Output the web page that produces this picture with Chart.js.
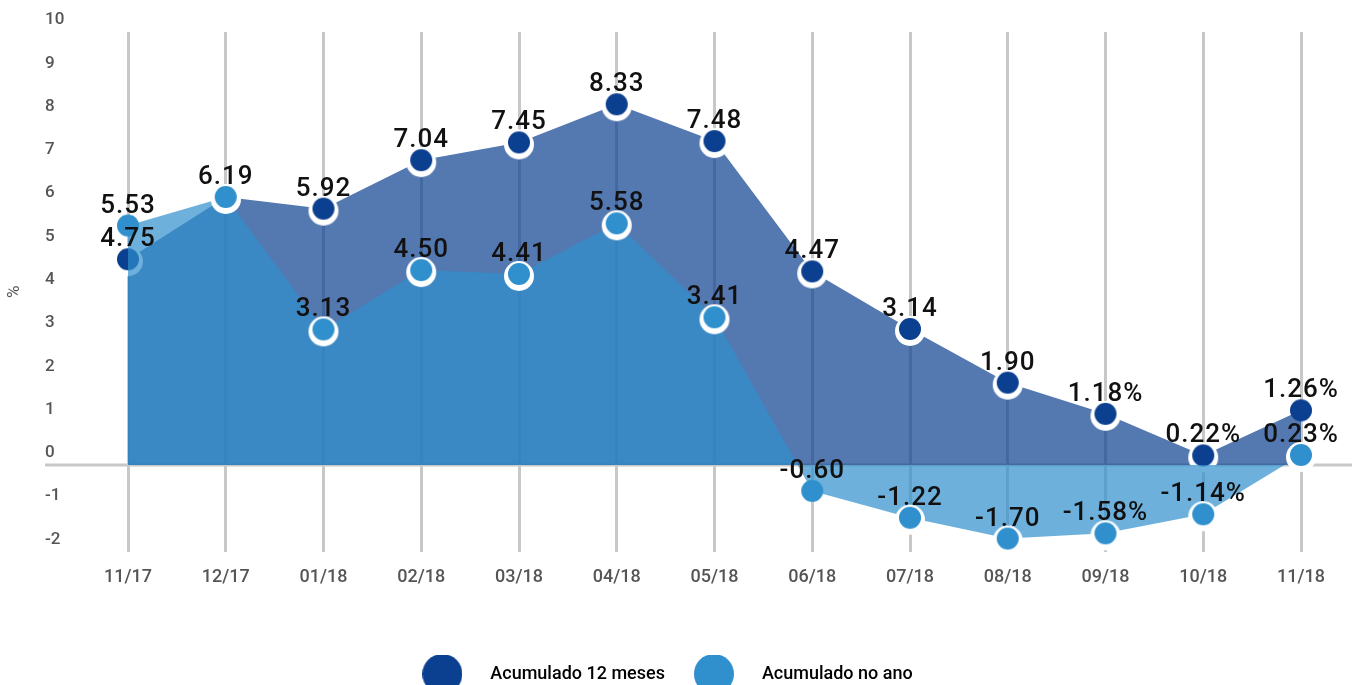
<!DOCTYPE html>
<html>
<head>
<meta charset="utf-8">
<script src="https://cdn.jsdelivr.net/npm/chart.js@4.4.0/dist/chart.umd.min.js"></script>
<style>
  html, body { margin: 0; padding: 0; background: #fff; }
  #wrap { width: 1356px; height: 685px; position: relative; }
</style>
</head>
<body>
<div id="wrap"><canvas id="myChart"></canvas></div>
<script>
// data
const months = ['11/17', '12/17', '01/18', '02/18', '03/18', '04/18', '05/18', '06/18', '07/18', '08/18', '09/18', '10/18', '11/18'];
const acum12 = [4.75, 6.19, 5.92, 7.04, 7.45, 8.33, 7.48, 4.47, 3.14, 1.90, 1.18, 0.22, 1.26];
const acumAno = [5.53, 6.19, 3.13, 4.50, 4.41, 5.58, 3.41, -0.60, -1.22, -1.70, -1.58, -1.14, 0.23];
const labels12 = ['4.75', '', '5.92', '7.04', '7.45', '8.33', '7.48', '4.47', '3.14', '1.90', '1.18%', '0.22%', '1.26%'];
const labelsAno = ['5.53', '6.19', '3.13', '4.50', '4.41', '5.58', '3.41', '-0.60', '-1.22', '-1.70', '-1.58%', '-1.14%', '0.23%'];
const seriesNames = ['Acumulado 12 meses', 'Acumulado no ano'];

// points drawn without the white ring in the original
const plain12 = [12];
const plainAno = [0, 7];

const DARK = '#0b3f8f';
const LIGHT = '#2f90cd';

// point with a white ring slightly shifted down
function dot(color, ring) {
  const c = document.createElement('canvas');
  c.width = 34; c.height = 40;
  const g = c.getContext('2d');
  if (ring) {
    g.fillStyle = '#fff';
    g.beginPath(); g.arc(17, 22, 15, 0, Math.PI * 2); g.fill();
  }
  g.fillStyle = color;
  g.beginPath(); g.arc(17, 20, 11, 0, Math.PI * 2); g.fill();
  return c;
}
const dots12 = [dot(DARK, true), dot(DARK, false)];
const dotsAno = [dot(LIGHT, true), dot(LIGHT, false)];

function legendDot(color) {
  const c = document.createElement('canvas');
  c.width = 40; c.height = 40;
  const g = c.getContext('2d');
  g.fillStyle = color;
  g.beginPath(); g.arc(20, 20, 20, 0, Math.PI * 2); g.fill();
  return c;
}
const legendDots = [legendDot(DARK), legendDot(LIGHT)];

// zero line across the whole width
const zeroLine = {
  id: 'zeroLine',
  beforeDatasetsDraw(chart) {
    const ctx = chart.ctx;
    const y = chart.scales.y.getPixelForValue(0);
    ctx.save();
    ctx.strokeStyle = '#c8c8c8';
    ctx.lineWidth = 3;
    ctx.beginPath();
    ctx.moveTo(chart.scales.y.left, y);
    ctx.lineTo(chart.width - 4, y);
    ctx.stroke();
    ctx.restore();
  }
};

// value labels above the points
const valueLabels = {
  id: 'valueLabels',
  afterDatasetsDraw(chart) {
    const ctx = chart.ctx;
    const texts = [labels12, labelsAno];
    ctx.save();
    ctx.font = '500 26px Roboto';
    ctx.letterSpacing = '1px';
    ctx.fillStyle = '#111';
    ctx.textAlign = 'center';
    ctx.textBaseline = 'alphabetic';
    chart.data.datasets.forEach((ds, i) => {
      chart.getDatasetMeta(i).data.forEach((pt, j) => {
        if (texts[i][j]) ctx.fillText(texts[i][j], pt.x, pt.y - 13);
      });
    });
    ctx.restore();
  }
};

// "%" axis title
const unitTitle = {
  id: 'unitTitle',
  afterDraw(chart) {
    const ctx = chart.ctx;
    const a = chart.chartArea;
    ctx.save();
    ctx.translate(15, (a.top + a.bottom) / 2);
    ctx.rotate(-Math.PI / 2);
    ctx.font = '400 17px Roboto';
    ctx.fillStyle = '#555';
    ctx.textAlign = 'center';
    ctx.textBaseline = 'middle';
    ctx.fillText('%', 0, 0);
    ctx.restore();
  }
};

// legend sits a little left of centre and a bit lower
const legendShift = {
  id: 'legendShift',
  afterLayout(chart) {
    const lg = chart.legend;
    lg.left -= 15;
    lg.right -= 15;
    lg.top += 3.5;
    lg.bottom += 3.5;
  }
};

const config = {
  type: 'line',
  data: {
    labels: months,
    datasets: [{
      label: seriesNames[0],
      data: acum12,
      order: 2,
      clip: false,
      fill: 'origin',
      backgroundColor: 'rgba(11, 63, 143, 0.7)',
      borderColor: 'transparent',
      borderWidth: 0,
      tension: 0,
      pointStyle: ctx => dots12[plain12.includes(ctx.dataIndex) ? 1 : 0],
      pointBackgroundColor: DARK
    }, {
      label: seriesNames[1],
      data: acumAno,
      order: 1,
      clip: false,
      fill: 'origin',
      backgroundColor: 'rgba(47, 143, 204, 0.7)',
      borderColor: 'transparent',
      borderWidth: 0,
      tension: 0,
      pointStyle: ctx => dotsAno[plainAno.includes(ctx.dataIndex) ? 1 : 0],
      pointBackgroundColor: LIGHT
    }]
  },
  options: {
    responsive: true,
    maintainAspectRatio: false,
    animation: false,
    events: [],
    layout: { padding: { left: 45, right: 55, top: 32, bottom: -4.5 } },
    scales: {
      x: {
        offset: false,
        border: { display: false },
        grid: { color: '#c8c8c8', lineWidth: 3, drawTicks: false },
        ticks: { color: '#555', padding: 15, font: { family: 'Roboto', size: 18, weight: '500' }, maxRotation: 0 },
        afterFit(scale) { scale.height = 100; }
      },
      y: {
        min: -2,
        max: 10,
        border: { display: false },
        grid: { display: false, drawTicks: false },
        ticks: {
          stepSize: 1,
          crossAlign: 'far',
          labelOffset: -12,
          color: '#555',
          font: { family: 'Roboto', size: 17, weight: '500' }
        },
        afterFit(scale) { scale.width = 83; }
      }
    },
    plugins: {
      tooltip: { enabled: false },
      legend: {
        position: 'bottom',
        labels: {
          usePointStyle: true,
          pointStyleWidth: 78,
          padding: 10,
          color: '#444',
          font: { family: 'Roboto', size: 18, weight: '500' },
          generateLabels(chart) {
            return chart.data.datasets.map((ds, i) => ({
              text: ds.label,
              pointStyle: legendDots[i],
              fillStyle: i ? LIGHT : DARK,
              strokeStyle: 'transparent',
              lineWidth: 0,
              hidden: false,
              datasetIndex: i
            }));
          }
        }
      }
    }
  },
  plugins: [zeroLine, valueLabels, unitTitle, legendShift]
};

const myChart = new Chart(document.getElementById('myChart'), config);
</script>
</body>
</html>
